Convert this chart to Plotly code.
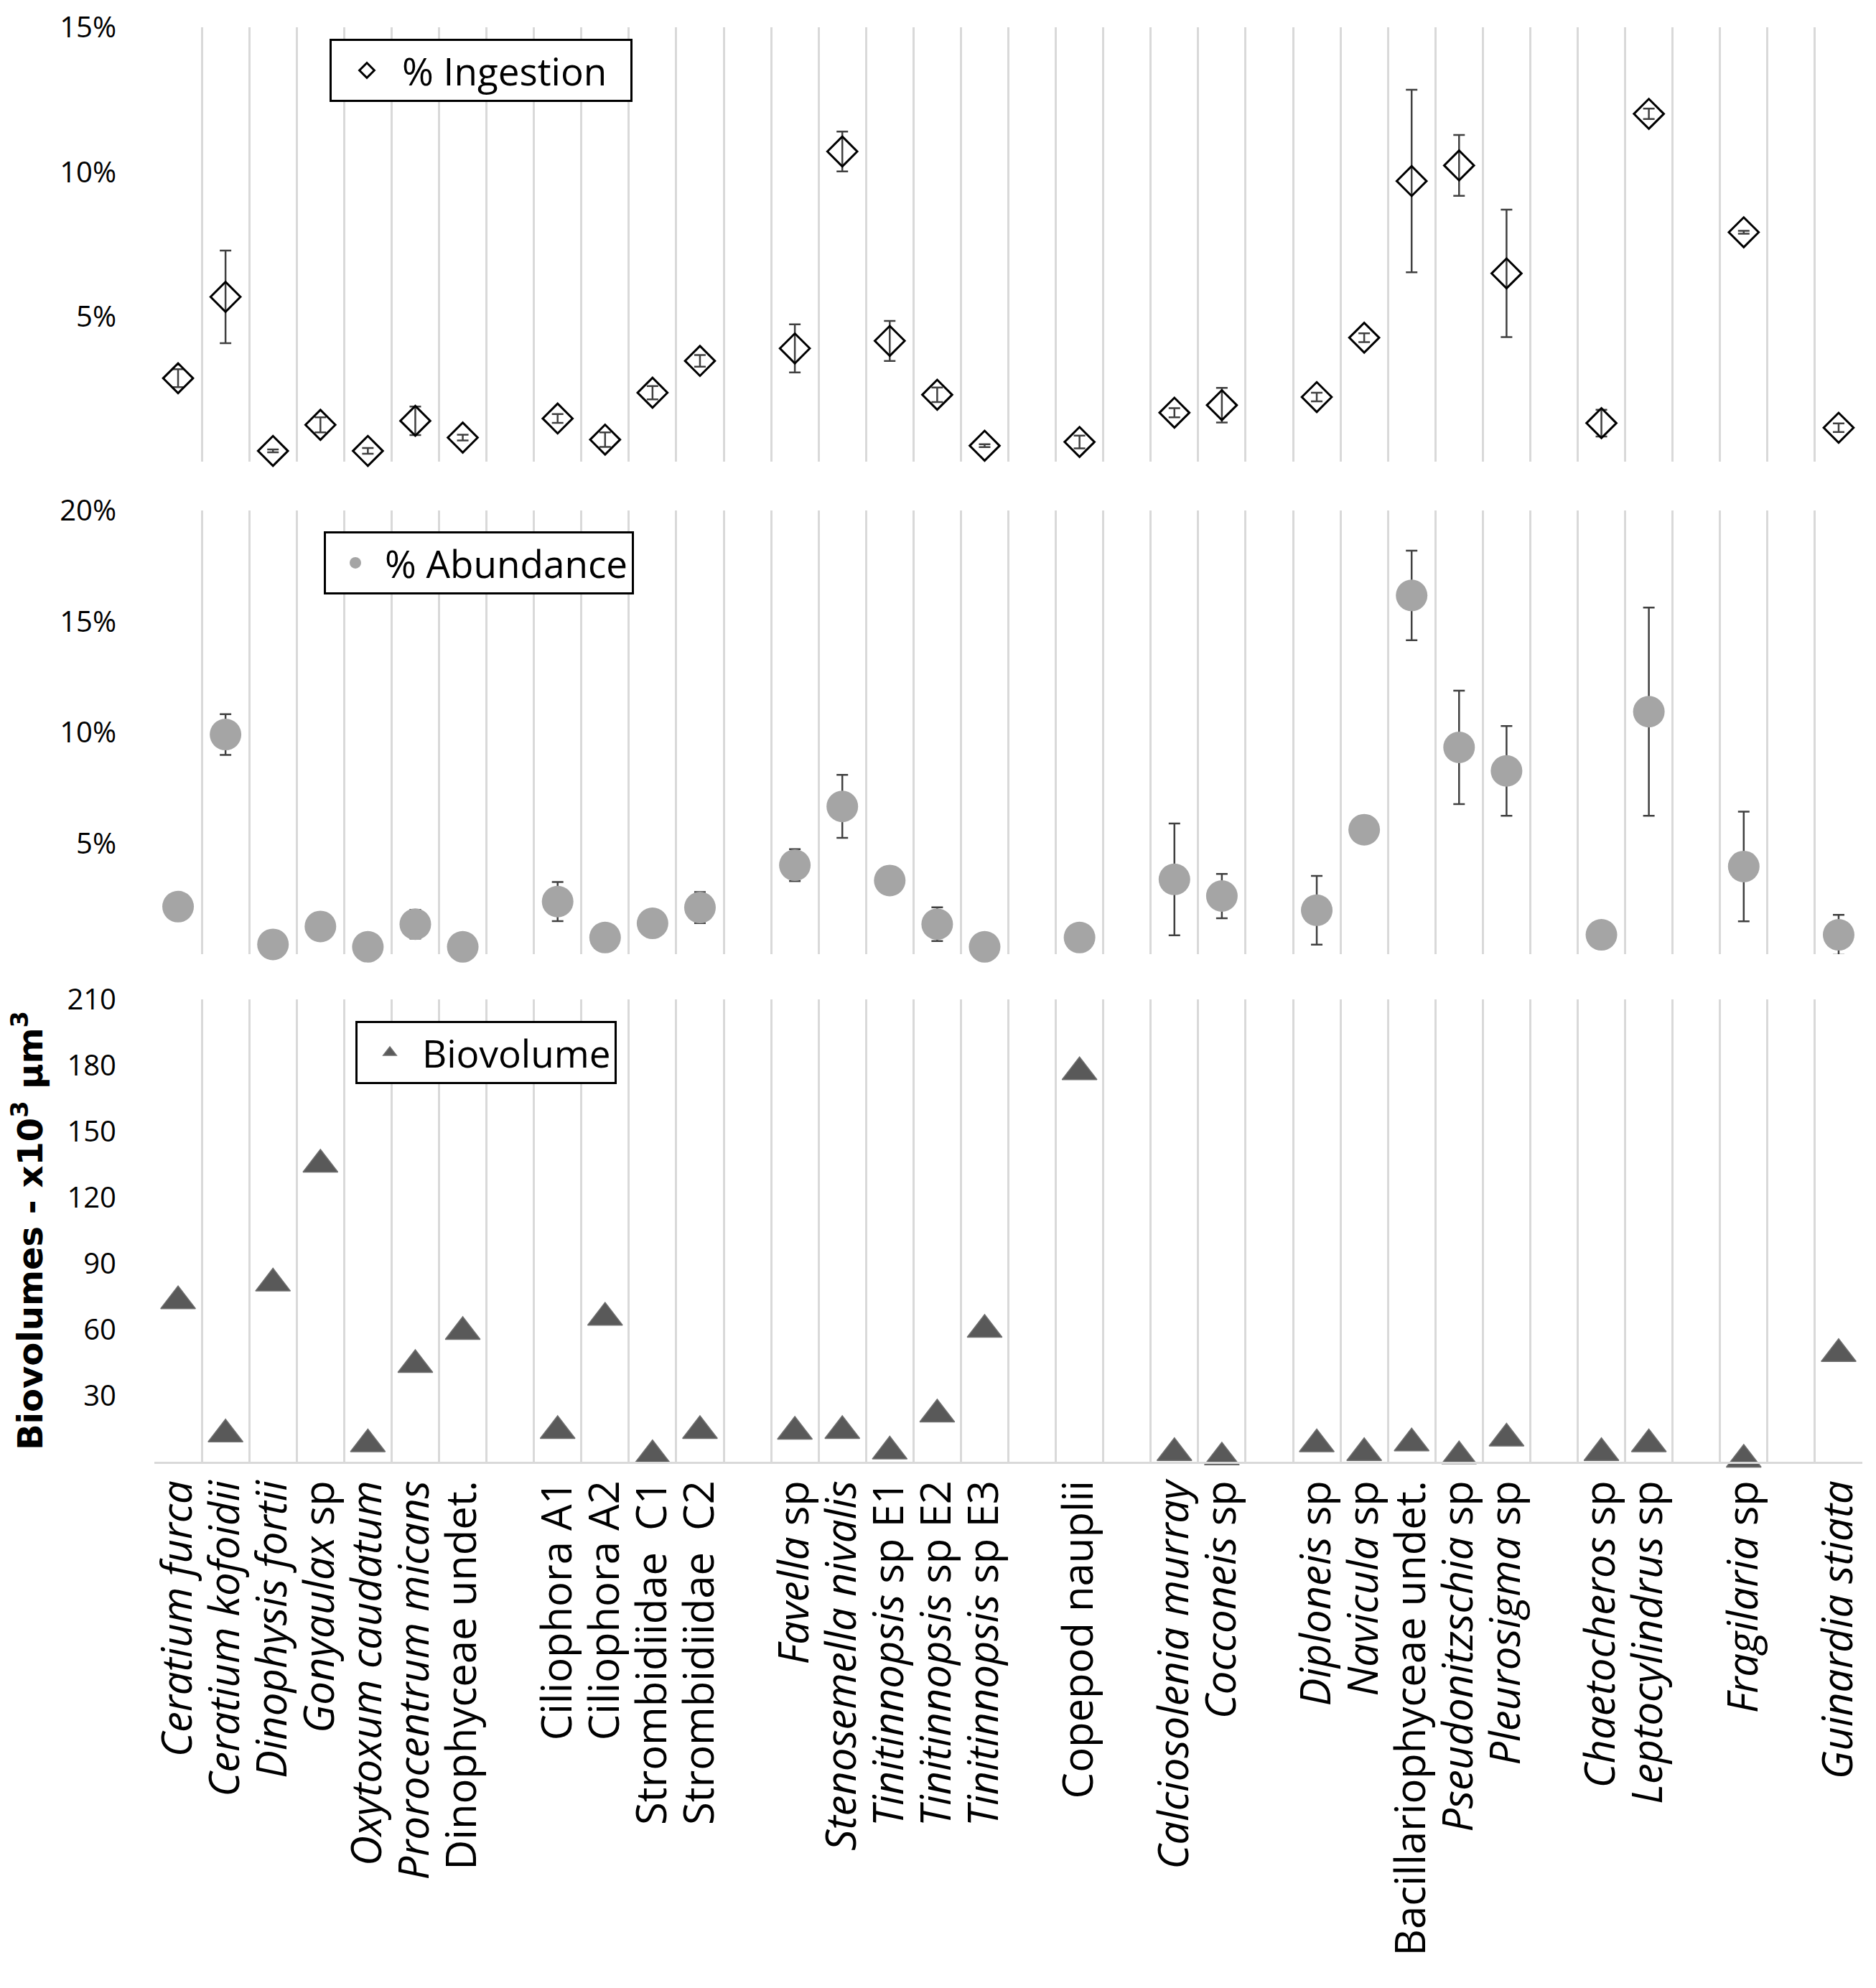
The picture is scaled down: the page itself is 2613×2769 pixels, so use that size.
import plotly.graph_objects as go
from plotly.subplots import make_subplots

# one slot per category; blank names are the empty spacer slots between groups
categories = [
    "<i>Ceratium furca</i>", "<i>Ceratium kofoidii</i>", "<i>Dinophysis fortii</i>",
    "<i>Gonyaulax</i> sp", "<i>Oxytoxum caudatum</i>", "<i>Prorocentrum micans</i>",
    "Dinophyceae undet.", " ",
    "Ciliophora A1", "Ciliophora A2", "Strombidiidae\u00a0 C1", "Strombidiidae\u00a0 C2", "  ",
    "<i>Favella</i> sp", "<i>Stenosemella nivalis</i>", "<i>Tinitinnopsis</i> sp E1",
    "<i>Tinitinnopsis</i> sp E2", "<i>Tinitinnopsis</i> sp E3", "   ",
    "Copepod nauplii", "    ",
    "<i>Calciosolenia murray</i>", "<i>Cocconeis</i> sp", "     ",
    "<i>Diploneis</i> sp", "<i>Navicula</i> sp", "Bacillariophyceae undet.",
    "<i>Pseudonitzschia</i> sp", "<i>Pleurosigma</i> sp", "      ",
    "<i>Chaetocheros</i> sp", "<i>Leptocylindrus</i> sp", "       ",
    "<i>Fragilaria</i> sp", "        ",
    "<i>Guinardia stiata</i>",
]

# % ingestion and its error
ingestion = [2.88, 5.69, 0.37, 1.27, 0.37, 1.41, 0.83, None,
             1.49, 0.76, 2.38, 3.48, None,
             3.91, 10.71, 4.17, 2.31, 0.55, None,
             0.68, None,
             1.69, 1.95, None,
             2.23, 4.28, 9.69, 10.23, 6.50, None,
             1.33, 12.01, None,
             7.92, None,
             1.17]
ingestion_err = [0.31, 1.6, 0.05, 0.26, 0.1, 0.49, 0.1, None,
                 0.15, 0.25, 0.23, 0.2, None,
                 0.83, 0.69, 0.69, 0.25, 0.05, None,
                 0.22, None,
                 0.16, 0.6, None,
                 0.15, 0.15, 3.15, 1.05, 2.2, None,
                 0.46, 0.18, None,
                 0.05, None,
                 0.15]

# % abundance and its error
abundance = [2.14, 9.90, 0.44, 1.25, 0.33, 1.35, 0.33, None,
             2.37, 0.75, 1.39, 2.10, None,
             4.01, 6.66, 3.32, 1.35, 0.33, None,
             0.75, None,
             3.37, 2.62, None,
             1.98, 5.61, 16.17, 9.32, 8.26, None,
             0.87, 10.93, None,
             3.95, None,
             0.87]
abundance_err = [0, 0.92, 0, 0, 0, 0.65, 0, None,
                 0.88, 0, 0, 0.7, None,
                 0.72, 1.42, 0, 0.76, 0, None,
                 0, None,
                 2.52, 1.0, None,
                 1.55, 0, 2.02, 2.56, 2.02, None,
                 0, 4.69, None,
                 2.47, None,
                 0.9]

# biovolume, x10^3 um^3
biovolume = [73, 12.5, 81, 135, 8, 44, 59, None,
             14, 65.5, 3, 14, None,
             13.7, 14, 4.7, 21.5, 60, None,
             177, None,
             4, 2, None,
             8, 4, 8.4, 2.5, 10.6, None,
             4, 8, None,
             1, None,
             49]

ingestion_ticks = [5, 10, 15]
abundance_ticks = [5, 10, 15, 20]
biovolume_ticks = [30, 60, 90, 120, 150, 180, 210]

# page is 2613x2769, the html body adds an 8px margin around the plot div
PAGE_W, PAGE_H, OFF = 2613, 2769, 8
W, H = PAGE_W - 2 * OFF, PAGE_H - 2 * OFF
GRID = "#d9d9d9"
ERR = "#404040"

fig = make_subplots(rows=3, cols=1, shared_xaxes=True)

fig.add_trace(go.Scatter(
    x=categories, y=ingestion, mode="markers", name="% Ingestion\u00a0\u00a0",
    marker=dict(symbol="diamond-open", size=32, color="black", line=dict(width=3, color="black")),
    error_y=dict(type="data", array=ingestion_err, color=ERR, thickness=2.5, width=8),
    cliponaxis=False, legend="legend",
), row=1, col=1)

fig.add_trace(go.Scatter(
    x=categories, y=abundance, mode="markers", name="% Abundance",
    marker=dict(symbol="circle", size=44, color="#a5a5a5", line=dict(width=0)),
    error_y=dict(type="data", array=abundance_err, color=ERR, thickness=2.5, width=8),
    cliponaxis=False, legend="legend2",
), row=2, col=1)

fig.add_trace(go.Scatter(
    x=categories, y=biovolume, mode="markers", name="Biovolume",
    marker=dict(symbol="triangle-up", size=42, color="#595959", line=dict(width=1.5, color="#6e6e6e")),
    cliponaxis=False, legend="legend3",
), row=3, col=1)

# plot area in page pixels
plot_left, plot_right = 215, 2594
plot_top, plot_bottom = 31, 2036
ml, mr = plot_left - OFF, W - (plot_right - OFF)
mt, mb = plot_top - OFF, H - (plot_bottom - OFF)
ph = plot_bottom - plot_top
pw = plot_right - plot_left


def dom(y0, y1):
    return [(plot_bottom - y1) / ph, (plot_bottom - y0) / ph]


xcommon = dict(
    type="category", categoryorder="array", categoryarray=categories,
    range=[-0.5, len(categories) - 0.5], tickmode="linear", tick0=0, dtick=1,
    tickson="boundaries", showgrid=True, gridcolor=GRID, gridwidth=3,
    zeroline=False, automargin=False,
)
fig.update_xaxes(**xcommon)
fig.update_xaxes(showticklabels=False, ticks="", showline=False, row=1, col=1)
fig.update_xaxes(showticklabels=False, ticks="", showline=False, row=2, col=1)
fig.update_xaxes(showticklabels=True, tickangle=-90, ticks="outside", ticklen=40,
                 tickcolor="rgba(0,0,0,0)", tickfont=dict(size=58, color="black"),
                 showline=True, linecolor=GRID, linewidth=3, row=3, col=1)

ycommon = dict(showgrid=False, zeroline=False, showline=False, ticks="outside",
               ticklen=44, tickcolor="rgba(0,0,0,0)", tickfont=dict(size=40, color="black"),
               automargin=False, fixedrange=True, tickmode="array",
               ticklabeloverflow="allow")
fig.update_yaxes(**ycommon)
fig.update_yaxes(range=[0, 15], tickvals=ingestion_ticks,
                 ticktext=[f"{v}%" for v in ingestion_ticks],
                 domain=dom(38, 643), row=1, col=1)
fig.update_yaxes(range=[0, 20], tickvals=abundance_ticks,
                 ticktext=[f"{v}%" for v in abundance_ticks],
                 domain=dom(711, 1329), row=2, col=1)
fig.update_yaxes(range=[0, 210], tickvals=biovolume_ticks,
                 ticktext=[str(v) for v in biovolume_ticks],
                 domain=dom(1392, 2036),
                 title=dict(text="\u00a0" * 7 + "<b>Biovolumes - x10<sup>3</sup> µm<sup>3</sup></b>",
                            font=dict(family="DejaVu Sans", size=48, color="black"),
                            standoff=22),
                 row=3, col=1)

legend_style = dict(xanchor="left", yanchor="top", bordercolor="black", borderwidth=3,
                    bgcolor="white", font=dict(size=53, color="black"))
fig.update_layout(
    width=W, height=H,
    margin=dict(l=ml, r=mr, t=mt, b=mb, autoexpand=False),
    paper_bgcolor="white", plot_bgcolor="white",
    font=dict(family="Open Sans", color="black"),
    showlegend=True,
    legend=dict(x=(459 - plot_left) / pw, y=dom(54, 54)[1], itemwidth=88, **legend_style),
    legend2=dict(x=(451 - plot_left) / pw, y=dom(740, 740)[1], itemwidth=72, **legend_style),
    legend3=dict(x=(495 - plot_left) / pw, y=dom(1422, 1422)[1], itemwidth=80, **legend_style),
)

fig.write_html("out.html")
